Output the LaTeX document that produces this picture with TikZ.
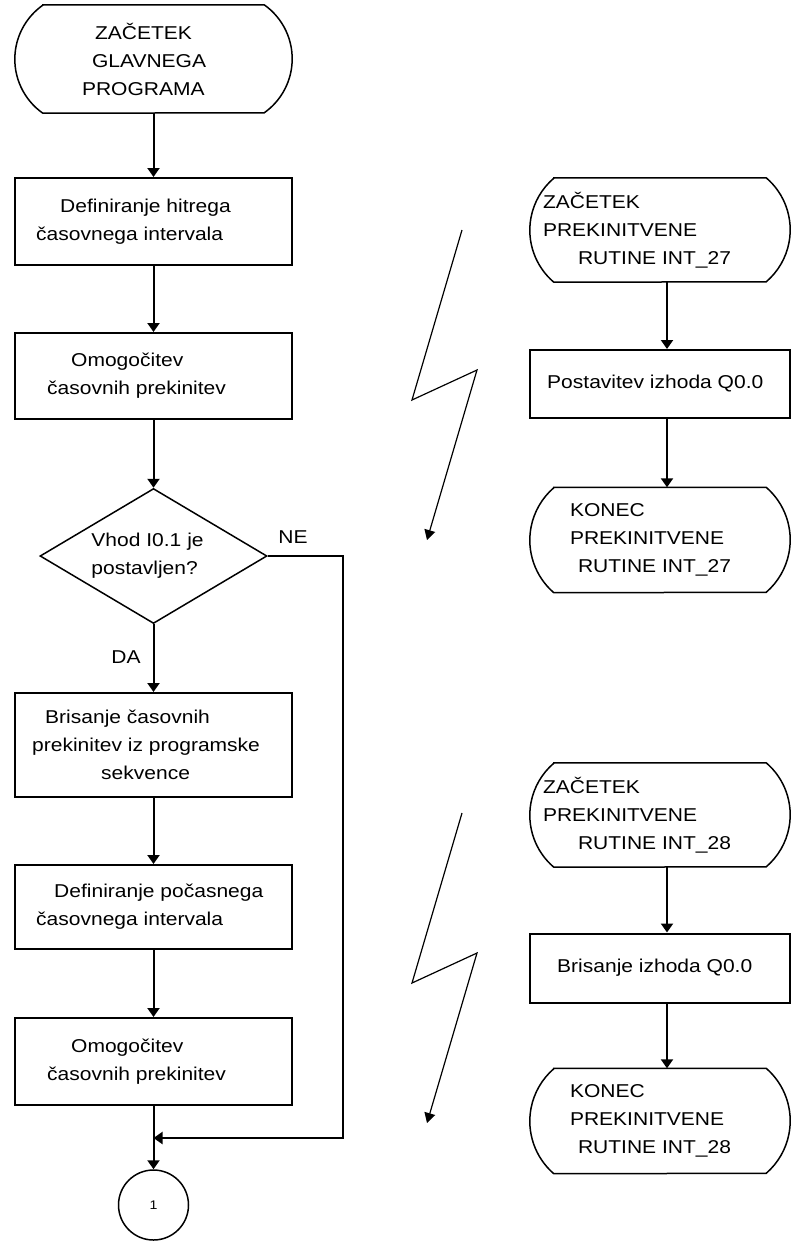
\documentclass[tikz,border=0pt]{standalone}
\usepackage{fontspec}
\setmainfont[FakeStretch=1.13]{Liberation Sans}
\usetikzlibrary{positioning,shapes.geometric,arrows.meta}

\begin{document}
\begin{tikzpicture}[x=1pt,y=-1pt,
  box/.style={draw,line width=2pt,minimum width=277pt,inner sep=0pt},
  rbox/.style={draw,line width=2pt,minimum width=260pt,inner sep=0pt},
  term/.style={inner sep=0pt},
  txt/.style={inner sep=0pt,align=left,font=\fontsize{18.6}{28}\selectfont},
  arr/.style={line width=2pt,-{Triangle[width=12pt,length=9pt]}},
  bolt/.style={line width=1.2pt,-{Triangle[width=11pt,length=10pt]}}]
    \useasboundingbox (0,0) rectangle (791,1243);
    % glavni program
    \node[term,minimum width=277pt,minimum height=108pt] (zacGl) at (153.5,59) {};
    \node[txt,right=67pt of zacGl.west] (zacGlT) {\hspace*{13pt}ZAČETEK\\\hspace*{10pt}GLAVNEGA\\PROGRAMA};
    \node[box,minimum height=87pt] (defHitri) at (153.5,221.5) {};
    \node[txt,right=22pt of defHitri.west] (defHitriT) {\hspace*{24pt}Definiranje hitrega\\časovnega intervala};
    \node[box,minimum height=86pt] (omog1) at (153.5,376) {};
    \node[txt,right=33pt of omog1.west] (omog1T) {\hspace*{24pt}Omogočitev\\časovnih prekinitev};
    \node[draw,diamond,line width=1.5pt,minimum width=227pt,minimum height=135pt,inner sep=0pt] (vhod) at (153.5,556) {};
    \node[txt,right=52pt of vhod.west] (vhodT) {Vhod I0.1 je\\postavljen?};
    \node[box,minimum height=104pt] (bris) at (153.5,745) {};
    \node[txt,right=18pt of bris.west] (brisT) {\hspace*{13pt}Brisanje časovnih\\prekinitev iz programske\\\hspace*{69pt}sekvence};
    \node[box,minimum height=84pt] (defPoc) at (153.5,907) {};
    \node[txt,right=22pt of defPoc.west] (defPocT) {\hspace*{18pt}Definiranje počasnega\\časovnega intervala};
    \node[box,minimum height=87pt] (omog2) at (153.5,1061.5) {};
    \node[txt,right=33pt of omog2.west] (omog2T) {\hspace*{24pt}Omogočitev\\časovnih prekinitev};
    \node[draw,circle,line width=1.5pt,minimum size=70pt,inner sep=0pt,font=\fontsize{12.5}{14}\selectfont] (krog) at (153.5,1205) {1};
    \node[txt] (ne) at (293,537) {NE};
    \node[txt] (da) at (126,657) {DA};
    \coordinate (stik) at (153.5,1138);

    \draw[arr] (zacGl) -- (defHitri);
    \draw[arr] (defHitri) -- (omog1);
    \draw[arr] (omog1) -- (vhod);
    \draw[arr] (vhod) -- (bris);
    \draw[arr] (bris) -- (defPoc);
    \draw[arr] (defPoc) -- (omog2);
    \draw[arr] (omog2) -- (krog);
    \draw[arr] (vhod.east) -- ++(75,0) |- (stik);

    % prekinitvene rutine
    \node[term,minimum width=260pt,minimum height=104pt] (zacA) at (660,230) {};
    \node[txt,right=13pt of zacA.west] (zacAT) {ZAČETEK\\PREKINITVENE\\\hspace*{35pt}RUTINE INT\_27};
    \node[rbox,minimum height=68pt] (postA) at (660,384) {};
    \node[txt,right=18pt of postA.west] (postAT) {Postavitev izhoda Q0.0};
    \node[term,minimum width=260pt,minimum height=105pt] (konA) at (660,540) {};
    \node[txt,right=40pt of konA.west] (konAT) {KONEC\\PREKINITVENE\\\hspace*{8pt}RUTINE INT\_27};

    \node[term,minimum width=260pt,minimum height=104pt] (zacB) at (660,815) {};
    \node[txt,right=13pt of zacB.west] (zacBT) {ZAČETEK\\PREKINITVENE\\\hspace*{35pt}RUTINE INT\_28};
    \node[rbox,minimum height=69pt] (brisB) at (660,968) {};
    \node[txt,right=28pt of brisB.west] (brisBT) {Brisanje izhoda Q0.0};
    \node[term,minimum width=260pt,minimum height=105pt] (konB) at (660,1121) {};
    \node[txt,right=40pt of konB.west] (konBT) {KONEC\\PREKINITVENE\\\hspace*{8pt}RUTINE INT\_28};

    % obrobe zacetkov in koncev (loka na obeh straneh)
    \foreach \n/\e/\h in {zacGl/28/54,zacA/24/52,konA/24/52.5,zacB/24/52,konB/24/52.5}{
      \pgfmathsetmacro\r{(\h*\h+\e*\e)/(2*\e)}
      \pgfmathsetmacro\kot{asin(\h/\r)}
      \draw[line width=1.5pt] ([xshift=\e pt]\n.north west) -- ([xshift=-\e pt]\n.north east)
        arc[start angle=\kot,end angle=-\kot,radius=\r pt]
        -- ([xshift=\e pt]\n.south west)
        arc[start angle=180+\kot,end angle=180-\kot,radius=\r pt] -- cycle;
    }

    \draw[arr] ([xshift=7pt]zacA.south) -- ([xshift=7pt]postA.north);
    \draw[arr] ([xshift=7pt]postA.south) -- ([xshift=7pt]konA.north);
    \draw[arr] ([xshift=7pt]zacB.south) -- ([xshift=7pt]brisB.north);
    \draw[arr] ([xshift=7pt]brisB.south) -- ([xshift=7pt]konB.north);

    % strele
    \foreach \dy/\ime in {0/A,583/B}{
      \coordinate (strela\ime1) at (462,230+\dy);
      \coordinate (strela\ime2) at (412,400+\dy);
      \coordinate (strela\ime3) at (477,370+\dy);
      \coordinate (strela\ime4) at (427,540+\dy);
      \draw[bolt] (strela\ime1) -- (strela\ime2) -- (strela\ime3) -- (strela\ime4);
    }
\end{tikzpicture}
\end{document}
